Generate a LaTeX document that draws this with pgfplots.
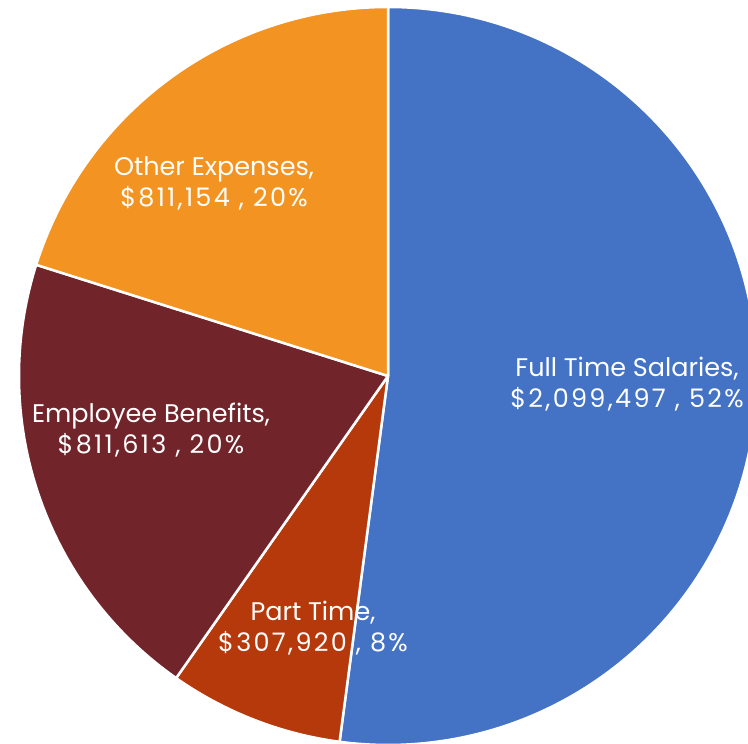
\documentclass[border=0pt]{standalone}
\usepackage{pgfplots}
\usepackage{pgfplotstable}
\usepackage{fontspec}
\setmainfont{Poppins}
\newfontfamily\numfont[LetterSpace=9]{Poppins}
\pgfplotsset{compat=1.18}
\definecolor{cFT}{HTML}{4472C4}
\definecolor{cPT}{HTML}{B5390B}
\definecolor{cEB}{HTML}{71252B}
\definecolor{cOE}{HTML}{F39422}
\pgfplotstableread{
label value
FT 2099497
PT 307920
EB 811613
OE 811154
}\piedata
\pgfplotstablegetelem{0}{value}\of\piedata\edef\vFT{\pgfplotsretval}
\pgfplotstablegetelem{1}{value}\of\piedata\edef\vPT{\pgfplotsretval}
\pgfplotstablegetelem{2}{value}\of\piedata\edef\vEB{\pgfplotsretval}
\pgfplotstablegetelem{3}{value}\of\piedata\edef\vOE{\pgfplotsretval}
\edef\tot{\fpeval{\vFT+\vPT+\vEB+\vOE}}
\edef\aA{90}
\edef\aB{\fpeval{\aA-360*\vFT/\tot}}
\edef\aC{\fpeval{\aB-360*\vPT/\tot}}
\edef\aD{\fpeval{\aC-360*\vEB/\tot}}
\edef\aE{\fpeval{\aD-360*\vOE/\tot}}
\begin{document}
\begin{tikzpicture}
\begin{axis}[
  width=748pt, height=744pt, scale only axis,
  xmin=0, xmax=748, ymin=0, ymax=744,
  hide axis, clip=true,
]
\def\slice#1#2#3{\fill[#1, draw=white, line width=2.5pt, line join=round]
  (axis cs:388,368) -- ++(#2:369) arc[start angle=#2, end angle=#3, radius=369] -- cycle;}
\slice{cFT}{\aA}{\aB}
\slice{cPT}{\aB}{\aC}
\slice{cEB}{\aC}{\aD}
\slice{cOE}{\aD}{\aE}
\tikzset{lbl/.style={text=white, font=\fontsize{25.5}{31}\selectfont, align=center, inner sep=0pt}}
\node[lbl] at (axis cs:627,360) {Full Time Salaries,\\{\numfont\$2,099,497 , 52\%}};
\node[lbl] at (axis cs:313,116) {Part Time,\\{\numfont\$307,920 , 8\%}};
\node[lbl] at (axis cs:151,314) {Employee Benefits,\\{\numfont\$811,613 , 20\%}};
\node[lbl] at (axis cs:214,561) {Other Expenses,\\{\numfont\$811,154 , 20\%}};
\end{axis}
\pgfresetboundingbox
\path (current axis.south west) rectangle (current axis.north east);
\end{tikzpicture}
\end{document}
